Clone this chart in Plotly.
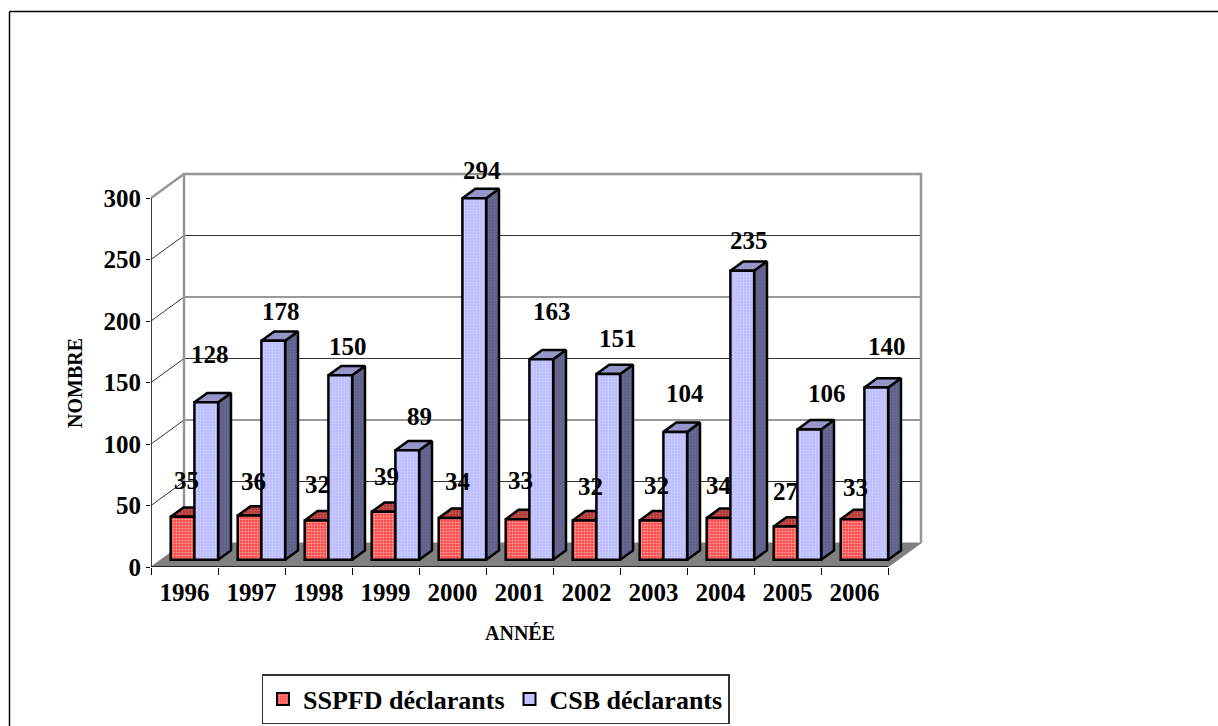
import plotly.graph_objects as go

YEARS = ["1996", "1997", "1998", "1999", "2000", "2001", "2002", "2003", "2004", "2005", "2006"]
SSPFD = [35, 36, 32, 39, 34, 33, 32, 32, 34, 27, 33]
CSB = [128, 178, 150, 89, 294, 163, 151, 104, 235, 106, 140]
Y_TICKS = [0, 50, 100, 150, 200, 250, 300]

# hand-placed labels in the original: pixel nudges relative to the bar centre/top
SSPFD_NUDGE = [(4, 36), (4, 34), (1, 36), (3, 35), (7, 36), (3, 39), (6, 34), (5, 35), (0, 32), (0, 35), (3, 32)]
CSB_NUDGE = [(4, 48), (8, 29), (8, 29), (12, 34), (8, 28), (11, 48), (10, 36), (10, 38), (7, 30), (18, 36), (11, 41)]

FONT = "Liberation Serif, Times New Roman, serif"
LEFT, RIGHT, TOP, BOTTOM = 151, 925, 170, 567
DX = 33 / 67.0       # wall depth, in category units
DY = 24 / 1.23       # wall depth, in value units
PAD_X = 4 / 67.0     # spare room so the wall frame is not clipped
PAD_Y = 4 / 1.23
FRONT, BACK = 0.30, 0.69   # bar depth within the wall depth
W = 0.354            # bar width, in category units
YMAX = 300


def P(x, y, d):
    return x + d * DX, y + d * DY


def poly(points):
    xs, ys = [], []
    for x, y, d in points:
        px, py = P(x, y, d)
        xs.append(px)
        ys.append(py)
    return xs, ys


def faces(values, sign):
    """Top and side faces of a bar row. sign=-1: left bar, +1: right bar."""
    tx, ty, sx, sy = [], [], [], []
    for i, v in enumerate(values):
        x0 = i + (-W if sign < 0 else 0)
        x1 = x0 + W
        a, b = poly([(x0, v, FRONT), (x1, v, FRONT), (x1, v, BACK), (x0, v, BACK), (x0, v, FRONT)])
        tx += a + [None]
        ty += b + [None]
        a, b = poly([(x1, 0, FRONT), (x1, 0, BACK), (x1, v, BACK), (x1, v, FRONT), (x1, 0, FRONT)])
        sx += a + [None]
        sy += b + [None]
    return tx, ty, sx, sy


def line(xs, ys, color, width, z):
    return go.Scatter(x=xs, y=ys, mode="lines", line=dict(color=color, width=width),
                      hoverinfo="skip", showlegend=False, zorder=z, cliponaxis=False)


def fill(xs, ys, color, fg=None, z=1, size=3):
    kw = {}
    if fg:
        kw["fillpattern"] = dict(shape=".", fgcolor=fg, bgcolor=color, size=size, solidity=0.45, fillmode="overlay")
    return go.Scatter(x=xs, y=ys, mode="lines", fill="toself", fillcolor=color,
                      line=dict(color="black", width=2.5), hoverinfo="skip",
                      showlegend=False, zorder=z, **kw)


n = len(YEARS)
xl, xr = -0.5, n - 0.5
fig = go.Figure()

# floor
fx, fy = poly([(xl, 0, 0), (xr, 0, 0), (xr, 0, 1), (xl, 0, 1), (xl, 0, 0)])
fig.add_trace(go.Scatter(x=fx, y=fy, mode="lines", fill="toself", fillcolor="#808080",
                         line=dict(color="#808080", width=1), hoverinfo="skip", showlegend=False, zorder=0))

# gridlines on walls
for v in Y_TICKS[1:-1]:
    gx, gy = poly([(xl, v, 0), (xl, v, 1), (xr, v, 1)])
    fig.add_trace(line(gx, gy, "#333333", 1, 0))

# wall frame
wx, wy = poly([(xl, 0, 1), (xl, YMAX, 1), (xr, YMAX, 1), (xr, 0, 1)])
fig.add_trace(line(wx, wy, "#969696", 2.5, 0))
wx, wy = poly([(xl, YMAX, 0), (xl, YMAX, 1)])
fig.add_trace(line(wx, wy, "#969696", 2.5, 0))

# front axis lines
ax, ay = poly([(xl, YMAX, 0), (xl, 0, 0), (xr, 0, 0)])
fig.add_trace(line(ax, ay, "black", 1.5, 1))

shift = FRONT * DX
base = FRONT * DY

# SSPFD bars
tx, ty, sx, sy = faces(SSPFD, -1)
fig.add_trace(fill(sx, sy, "#8f1c1c", "#c06060", 2))
fig.add_trace(fill(tx, ty, "#b03030", "#d98080", 2))
fig.add_trace(go.Bar(
    name="SSPFD déclarants", x=[i + shift for i in range(n)], y=SSPFD, base=base,
    width=W, offset=-W, zorder=3,
    marker=dict(color="#ff3b3b", line=dict(color="black", width=2.5),
                pattern=dict(shape=".", fgcolor="#ffffff", bgcolor="#ff3030", size=3, solidity=0.5, fillmode="overlay")),
    hovertext=YEARS, hoverinfo="text+y"))

# CSB bars
tx, ty, sx, sy = faces(CSB, 1)
fig.add_trace(fill(sx, sy, "#5c5c8a", "#7a7aa0", 4))
fig.add_trace(fill(tx, ty, "#8f8fc4", "#a8a8d4", 4))
fig.add_trace(go.Bar(
    name="CSB déclarants", x=[i + shift for i in range(n)], y=CSB, base=base,
    width=W, offset=0, zorder=5,
    marker=dict(color="#c4c4ff", line=dict(color="black", width=2.5),
                pattern=dict(shape=".", fgcolor="#e4e4ff", bgcolor="#b8b8ff", size=3, solidity=0.45, fillmode="overlay")),
    hovertext=YEARS, hoverinfo="text+y"))

# data labels as annotations anchored on the data
for i, v in enumerate(SSPFD):
    nx, ny = SSPFD_NUDGE[i]
    fig.add_annotation(x=i + shift - W / 2, y=v + base, text=str(v), showarrow=False,
                       xshift=nx, yshift=ny, xanchor="center", yanchor="middle",
                       font=dict(family=FONT, size=25, color="black", weight="bold"))
for i, v in enumerate(CSB):
    nx, ny = CSB_NUDGE[i]
    fig.add_annotation(x=i + shift + W / 2, y=v + base, text=str(v), showarrow=False,
                       xshift=nx, yshift=ny, xanchor="center", yanchor="middle",
                       font=dict(family=FONT, size=25, color="black", weight="bold"))

# axis titles, placed where the original has them
fig.add_annotation(xref="paper", yref="paper", x=(520 - LEFT) / (RIGHT - LEFT), y=(BOTTOM - 633) / (BOTTOM - TOP),
                   text="ANNÉE", showarrow=False, xanchor="center", yanchor="middle",
                   font=dict(family=FONT, size=20, color="black", weight="bold"))
fig.add_annotation(xref="paper", yref="paper", x=(75 - LEFT) / (RIGHT - LEFT), y=(BOTTOM - 383) / (BOTTOM - TOP),
                   text="NOMBRE", textangle=-90, showarrow=False, xanchor="center", yanchor="middle",
                   font=dict(family=FONT, size=20, color="black", weight="bold"))

W_P, H_P = RIGHT - LEFT, BOTTOM - TOP
frame_x = (9.5 - LEFT) / W_P
frame_y = (BOTTOM - 11.5) / H_P
fig.update_layout(
    width=1218, height=726, autosize=False,
    margin=dict(l=LEFT, r=1218 - RIGHT, t=TOP, b=726 - BOTTOM, pad=0, autoexpand=False),
    paper_bgcolor="white", plot_bgcolor="white",
    barmode="overlay",
    font=dict(family=FONT, color="black"),
    hovermode="closest",
    legend=dict(orientation="h", x=(495.5 - LEFT) / W_P, y=(BOTTOM - 699) / H_P, xanchor="center", yanchor="middle",
                xref="paper", yref="paper",
                bgcolor="white", bordercolor="#333333", borderwidth=1.5,
                font=dict(family=FONT, size=26, color="black", weight="bold"),
                itemsizing="constant", traceorder="normal"),
    xaxis=dict(
        range=[xl, xr + DX + PAD_X], tickmode="array", tickvals=list(range(n)), ticktext=YEARS,
        showgrid=False, zeroline=False, showline=False, ticks="", ticklabelstandoff=8,
        tickfont=dict(family=FONT, size=25, color="black", weight="bold"),
        minor=dict(tickmode="array", tickvals=[xl + k for k in range(n + 1)], ticks="outside",
                   ticklen=7, tickcolor="black", tickwidth=1, showgrid=False),
        fixedrange=True),
    yaxis=dict(
        range=[0, YMAX + DY + PAD_Y], tickmode="array", tickvals=Y_TICKS, ticktext=[str(t) for t in Y_TICKS],
        showgrid=False, zeroline=False, showline=False, ticks="outside", ticklen=4, tickcolor="black", tickwidth=1,
        tickfont=dict(family=FONT, size=25, color="black", weight="bold"),
        fixedrange=True),
    shapes=[
        dict(type="line", xref="paper", yref="paper", x0=frame_x, x1=1.4, y0=frame_y, y1=frame_y,
             line=dict(color="black", width=1.5)),
        dict(type="line", xref="paper", yref="paper", x0=frame_x, x1=frame_x, y0=frame_y, y1=-0.5,
             line=dict(color="black", width=1.5)),
    ],
)
fig.write_html("out.html", config=dict(displayModeBar=False),
               post_script="document.body.style.margin='0';document.documentElement.style.overflow='hidden';")
